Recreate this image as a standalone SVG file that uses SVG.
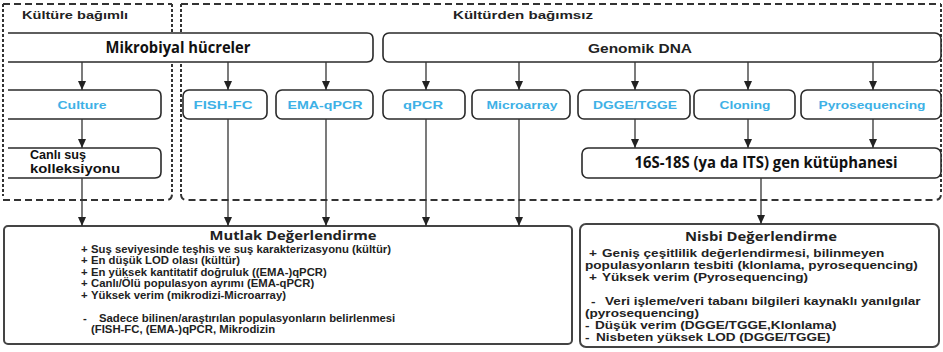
<svg xmlns="http://www.w3.org/2000/svg" width="943" height="352" viewBox="0 0 943 352">
  <defs>
    <marker id="arrow" markerUnits="userSpaceOnUse" markerWidth="10" markerHeight="8" refX="9" refY="4" orient="auto">
      <path d="M0,0 L9,4 L0,8 Z" fill="#222"/>
    </marker>
    <style>
      .dash-h { fill: none; stroke: #333; stroke-width: 2; stroke-dasharray: 7 4; }
      .dash-v { fill: none; stroke: #333; stroke-width: 2; stroke-dasharray: 3 2; }
      .box { fill: #fff; stroke: #2a2a2a; stroke-width: 1.6; }
      .panel { fill: #fff; stroke: #444; stroke-width: 2; }
      .link { fill: none; stroke: #333; stroke-width: 1.3; marker-end: url(#arrow); }
      .region { font-family: "Liberation Sans", Arial, sans-serif; font-weight: bold; font-size: 11.5px; fill: #222; }
      .method { font-family: "Liberation Sans", Arial, sans-serif; font-weight: bold; font-size: 11px; fill: #3eb1e6; text-anchor: middle; }
      .head { font-family: "Open Sans", "Noto Sans", sans-serif; font-weight: bold; fill: #111; }
      .label { font-family: "Liberation Sans", Arial, sans-serif; font-weight: bold; font-size: 12px; fill: #111; }
      .body { font-family: "Liberation Sans", Arial, sans-serif; font-weight: bold; font-size: 10.3px; fill: #222; }
      .title { font-family: "Open Sans", "Noto Sans", sans-serif; font-weight: bold; font-size: 12.5px; fill: #222; }
    </style>
  </defs>

  <!-- culture-dependent / culture-independent regions -->
  <g id="region-dependent">
    <path class="dash-h" d="M3,4 H172"/>
    <path class="dash-v" d="M3,4 V196"/>
    <path class="dash-v" d="M172,4 V194"/>
    <path class="dash-h" d="M3,200 H166 Q172,200 172,194"/>
    <text class="region" x="22" y="19" textLength="106" lengthAdjust="spacingAndGlyphs">Kültüre bağımlı</text>
  </g>
  <g id="region-independent">
    <path class="dash-h" d="M181,4 H941"/>
    <path class="dash-v" d="M181,4 V194"/>
    <path class="dash-v" d="M941,4 V194"/>
    <path class="dash-h" d="M181,194 Q181,200 187,200 H935 Q941,200 941,194"/>
    <text class="region" x="523" y="19" text-anchor="middle" textLength="140" lengthAdjust="spacingAndGlyphs">Kültürden bağımsız</text>
  </g>

  <!-- sources -->
  <g id="node-mikrobiyal">
    <path class="box" d="M8,33 H367 Q373,33 373,39 V56 Q373,62 367,62 H8"/>
    <text class="head" x="178" y="53" font-size="16.5" text-anchor="middle" textLength="145" lengthAdjust="spacingAndGlyphs">Mikrobiyal hücreler</text>
  </g>
  <g id="node-genomik">
    <rect class="box" x="383" y="33" width="558" height="29" rx="6"/>
    <text x="640" y="53" font-family="Liberation Sans, Arial, sans-serif" font-weight="bold" font-size="13" fill="#222" text-anchor="middle" textLength="104" lengthAdjust="spacingAndGlyphs">Genomik DNA</text>
  </g>

  <!-- methods -->
  <g id="node-culture">
    <path class="box" d="M8,90 H155 Q161,90 161,96 V113 Q161,119 155,119 H8"/>
    <text class="method" x="82" y="109" textLength="49" lengthAdjust="spacingAndGlyphs">Culture</text>
  </g>
  <g id="node-fish">
    <rect class="box" x="183" y="90" width="84" height="29" rx="6"/>
    <text class="method" x="223" y="109" textLength="59" lengthAdjust="spacingAndGlyphs">FISH-FC</text>
  </g>
  <g id="node-ema">
    <rect class="box" x="276" y="90" width="97" height="29" rx="6"/>
    <text class="method" x="325" y="109" textLength="75" lengthAdjust="spacingAndGlyphs">EMA-qPCR</text>
  </g>
  <g id="node-qpcr">
    <rect class="box" x="383" y="90" width="82" height="29" rx="6"/>
    <text class="method" x="423" y="109" textLength="40" lengthAdjust="spacingAndGlyphs">qPCR</text>
  </g>
  <g id="node-microarray">
    <rect class="box" x="472" y="90" width="98" height="29" rx="6"/>
    <text class="method" x="522" y="109" textLength="71" lengthAdjust="spacingAndGlyphs">Microarray</text>
  </g>
  <g id="node-dgge">
    <rect class="box" x="578" y="90" width="112" height="29" rx="6"/>
    <text class="method" x="635" y="109" textLength="84" lengthAdjust="spacingAndGlyphs">DGGE/TGGE</text>
  </g>
  <g id="node-cloning">
    <rect class="box" x="694" y="90" width="101" height="29" rx="6"/>
    <text class="method" x="745" y="109" textLength="51" lengthAdjust="spacingAndGlyphs">Cloning</text>
  </g>
  <g id="node-pyro">
    <rect class="box" x="801" y="90" width="140" height="29" rx="6"/>
    <text class="method" x="872" y="109" textLength="107" lengthAdjust="spacingAndGlyphs">Pyrosequencing</text>
  </g>

  <!-- intermediate products -->
  <g id="node-canli">
    <path class="box" d="M8,148 H155 Q161,148 161,154 V172 Q161,178 155,178 H8"/>
    <text class="label" x="30" y="159" textLength="56" lengthAdjust="spacingAndGlyphs">Canlı suş</text>
    <text class="label" x="30" y="173" textLength="90" lengthAdjust="spacingAndGlyphs">kolleksiyonu</text>
  </g>
  <g id="node-16s">
    <rect class="box" x="582" y="148" width="359" height="30" rx="6"/>
    <text class="head" x="766" y="168" font-size="16.5" text-anchor="middle" textLength="263" lengthAdjust="spacingAndGlyphs">16S-18S (ya da ITS) gen kütüphanesi</text>
  </g>

  <!-- evaluation panels -->
  <g id="node-mutlak">
    <rect class="panel" x="4" y="226" width="568" height="118" rx="4"/>
    <text class="title" x="293" y="239.5" text-anchor="middle" textLength="167" lengthAdjust="spacingAndGlyphs">Mutlak Değerlendirme</text>
    <!-- body lines, widened to the panel's lettering -->
    <g class="body" transform="matrix(1.1,0,0,1,81,0)">
      <text x="0" y="253">+</text>
      <text x="9.1" y="253">Suş seviyesinde teşhis ve suş karakterizasyonu (kültür)</text>
      <text x="0" y="264.5">+</text>
      <text x="9.1" y="264.5">En düşük LOD olası (kültür)</text>
      <text x="0" y="276">+</text>
      <text x="9.1" y="276">En yüksek kantitatif doğruluk ((EMA-)qPCR)</text>
      <text x="0" y="287.5">+</text>
      <text x="9.1" y="287.5">Canlı/Ölü populasyon ayrımı (EMA-qPCR)</text>
      <text x="0" y="299">+</text>
      <text x="9.1" y="299">Yüksek verim (mikrodizi-Microarray)</text>
      <text x="1.8" y="322">-</text>
      <text x="16.4" y="322">Sadece bilinen/araştırılan populasyonların belirlenmesi</text>
      <text x="9.1" y="333.5">(FISH-FC, (EMA-)qPCR, Mikrodizin</text>
    </g>
  </g>
  <g id="node-nisbi">
    <rect class="panel" x="580" y="224" width="359" height="123" rx="6"/>
    <text class="title" x="761" y="241" text-anchor="middle" textLength="152" lengthAdjust="spacingAndGlyphs">Nisbi Değerlendirme</text>
    <g class="body" transform="matrix(1.32,0,0,1,585,0)">
      <text x="3" y="257">+</text>
      <text x="12.9" y="257">Geniş çeşitlilik değerlendirmesi, bilinmeyen</text>
      <text x="0" y="269">populasyonların tesbiti (klonlama, pyrosequencing)</text>
      <text x="3" y="281">+</text>
      <text x="12.9" y="281">Yüksek verim (Pyrosequencing)</text>
      <text x="4.5" y="305">-</text>
      <text x="15.2" y="305">Veri işleme/veri tabanı bilgileri kaynaklı yanılgılar</text>
      <text x="0" y="317">(pyrosequencing)</text>
      <text x="0" y="329.5">-</text>
      <text x="7.6" y="329.5">Düşük verim (DGGE/TGGE,Klonlama)</text>
      <text x="0" y="341.5">-</text>
      <text x="8.3" y="341.5">Nisbeten yüksek LOD (DGGE/TGGE)</text>
    </g>
  </g>

  <!-- connectors -->
  <g id="connectors">
    <path class="link" d="M82,62 V90"/>
    <path class="link" d="M228,62 V90"/>
    <path class="link" d="M326,62 V90"/>
    <path class="link" d="M426,62 V90"/>
    <path class="link" d="M519,62 V90"/>
    <path class="link" d="M635,62 V90"/>
    <path class="link" d="M748,62 V90"/>
    <path class="link" d="M873,62 V90"/>
    <path class="link" d="M82,119 V148"/>
    <path class="link" d="M635,119 V148"/>
    <path class="link" d="M748,119 V148"/>
    <path class="link" d="M873,119 V148"/>
    <path class="link" d="M82,178 V226"/>
    <path class="link" d="M228,119 V226"/>
    <path class="link" d="M326,119 V226"/>
    <path class="link" d="M426,119 V226"/>
    <path class="link" d="M519,119 V226"/>
    <path class="link" d="M761,178 V224"/>
  </g>
</svg>
